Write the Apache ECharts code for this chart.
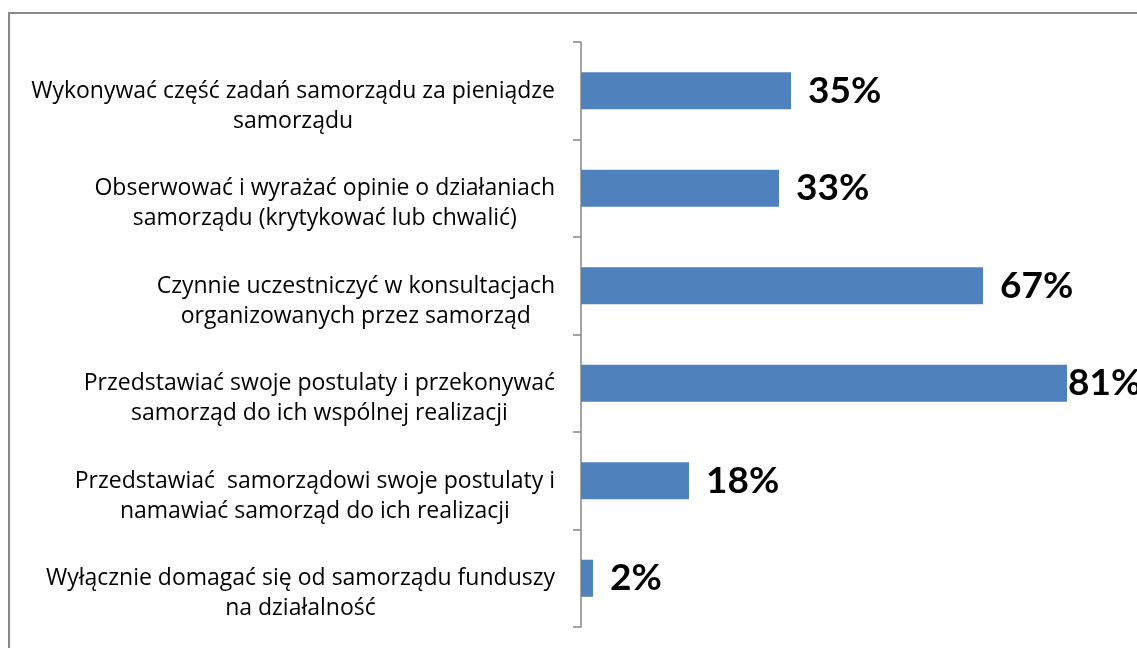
<!DOCTYPE html>
<html>
<head>
<meta charset="utf-8">
<script src="https://cdn.jsdelivr.net/npm/echarts@6/dist/echarts.min.js"></script>
<style>html,body{margin:0;padding:0;background:#fff}#c{width:1137px;height:648px}</style>
</head>
<body>
<div id="c"></div>
<script>
const categories = [
  "Wykonywać część zadań samorządu za pieniądze\nsamorządu",
  "Obserwować i wyrażać opinie o działaniach\nsamorządu (krytykować lub chwalić)",
  "Czynnie uczestniczyć w konsultacjach\norganizowanych przez samorząd",
  "Przedstawiać swoje postulaty i przekonywać\nsamorząd do ich wspólnej realizacji",
  "Przedstawiać  samorządowi swoje postulaty i\nnamawiać samorząd do ich realizacji",
  "Wyłącznie domagać się od samorządu funduszy\nna działalność"
];
const values = [35, 33, 67, 81, 18, 2];

const chart = echarts.init(document.getElementById('c'));
chart.setOption({
  animation: false,
  graphic: [{
    type: 'rect', z: -1,
    shape: { x: 9, y: 13, width: 1200, height: 700 },
    style: { fill: 'none', stroke: '#898989', lineWidth: 2 }
  }],
  grid: { left: 581, top: 42, height: 585, width: 540 },
  xAxis: {
    type: 'value', min: 0, max: 90, show: false
  },
  yAxis: {
    type: 'category', inverse: true, data: categories,
    axisLine: { show: true, lineStyle: { color: '#868686', width: 1.5 } },
    axisTick: { show: true, inside: false, alignWithLabel: false, length: 8, lineStyle: { color: '#868686', width: 1.5 } },
    axisLabel: {
      margin: 26,
      align: 'right',
      verticalAlign: 'middle',
      padding: [31, 0, 0, 0],
      formatter: function (v) {
        return v.split('\n').map(l => '{c|' + l + '}').join('\n');
      },
      rich: {
        c: { align: 'center', fontFamily: 'Open Sans', fontSize: 23, lineHeight: 30, color: '#000' }
      }
    }
  },
  series: [{
    type: 'bar',
    data: values.map((v, i) => v === Math.max(...values)
      ? { value: v, label: { distance: 1 } } : v),
    barCategoryGap: '62%',
    itemStyle: { color: '#4F81BD' },
    label: {
      show: true, position: 'right', distance: 17,
      formatter: '{c}%',
      fontFamily: 'Lato', fontWeight: 'bold', fontSize: 37, color: '#000'
    }
  }]
});
</script>
</body>
</html>
